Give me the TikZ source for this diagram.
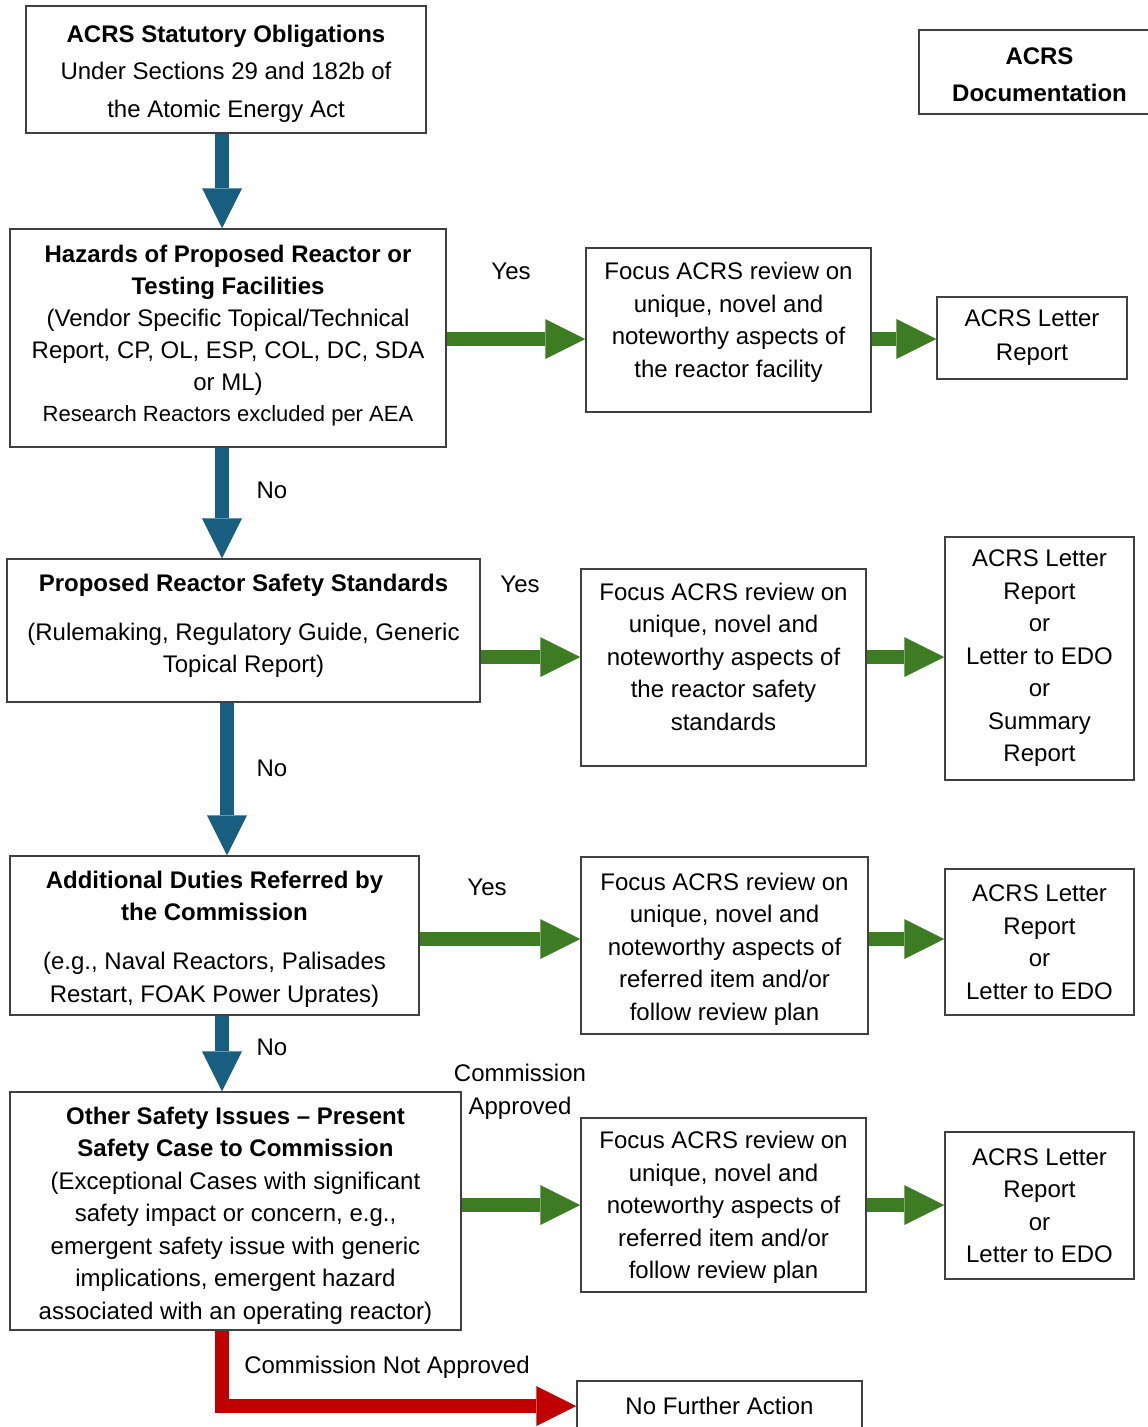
\documentclass[tikz,border=0pt]{standalone}
\usepackage{fontspec}
\setmainfont{Liberation Sans}
\usepackage{xcolor}
\usetikzlibrary{arrows.meta}

\definecolor{noblue}{RGB}{24,94,128}
\definecolor{yesgreen}{RGB}{62,124,36}
\definecolor{stopred}{RGB}{192,0,0}

% move a block of lines up or down inside its box, keeping the box size
\newcommand{\lift}[2]{\raisebox{#1}[\height][\depth]{\begin{tabular}{@{}c@{}}#2\end{tabular}}}

\begin{document}
\begin{tikzpicture}[
    x=1pt,y=-1pt,
    box/.style={draw=black!75,line width=1.5pt,align=center,inner sep=0pt,
      font=\fontsize{24}{32.5}\selectfont},
    lbl/.style={inner sep=0pt,align=center,font=\fontsize{24}{32.5}\selectfont},
    noarrow/.style={draw=noblue,line width=14pt,-{Triangle[width=40pt,length=40pt,line width=0pt]}},
    yesarrow/.style={draw=yesgreen,line width=14pt,-{Triangle[width=40pt,length=40pt,line width=0pt]}},
    stoparrow/.style={draw=stopred,line width=14pt,line join=miter,-{Triangle[width=40pt,length=40pt,line width=0pt]}}
  ]
    \path[use as bounding box,fill=white] (0,0) rectangle (1148,1427);

    % left column
    \node[box,minimum width=400,minimum height=127,font=\fontsize{24}{37.5}\selectfont] (stat) at (226,69.5)
      {\lift{-2.5pt}{\textbf{ACRS Statutory Obligations}\\Under Sections 29 and 182b of\\the Atomic Energy Act}};
    \node[box,minimum width=436,minimum height=218,font=\fontsize{24}{32}\selectfont] (haz) at (228,338)
      {\lift{2pt}{\textbf{Hazards of Proposed Reactor or}\\\textbf{Testing Facilities}\\(Vendor Specific Topical/Technical\\Report, CP, OL, ESP, COL, DC, SDA\\or ML)\\[-1pt]{\fontsize{22}{31}\selectfont Research Reactors excluded per AEA}}};
    \node[box,minimum width=473,minimum height=143] (std) at (243.5,630.5)
      {\lift{5pt}{\textbf{Proposed Reactor Safety Standards}\\[16pt](Rulemaking, Regulatory Guide, Generic\\Topical Report)}};
    \node[box,minimum width=409,minimum height=159] (add) at (214.5,935.5)
      {\lift{-3pt}{\textbf{Additional Duties Referred by}\\\textbf{the Commission}\\[16.5pt](e.g., Naval Reactors, Palisades\\Restart, FOAK Power Uprates)}};
    \node[box,minimum width=451,minimum height=238] (oth) at (235.5,1211)
      {\lift{-4pt}{\textbf{Other Safety Issues -- Present}\\\textbf{Safety Case to Commission}\\(Exceptional Cases with significant\\safety impact or concern, e.g.,\\emergent safety issue with generic\\implications, emergent hazard\\associated with an operating reactor)}};

    % middle column
    \node[box,minimum width=285,minimum height=164] (foc1) at (728.5,330)
      {\lift{8pt}{Focus ACRS review on\\unique, novel and\\noteworthy aspects of\\the reactor facility}};
    \node[box,minimum width=285,minimum height=197] (foc2) at (723.5,667.5)
      {\lift{9pt}{Focus ACRS review on\\unique, novel and\\noteworthy aspects of\\the reactor safety\\standards}};
    \node[box,minimum width=287,minimum height=177] (foc3) at (724.5,945.5)
      {\lift{-3pt}{Focus ACRS review on\\unique, novel and\\noteworthy aspects of\\referred item and/or\\follow review plan}};
    \node[box,minimum width=285,minimum height=174] (foc4) at (723.5,1205)
      {\lift{-2pt}{Focus ACRS review on\\unique, novel and\\noteworthy aspects of\\referred item and/or\\follow review plan}};
    \node[box,minimum width=285,minimum height=50] (nfa) at (719.5,1406) {No Further Action};

    % right column
    \node[box,minimum width=241,minimum height=84,font=\fontsize{24}{37}\selectfont] (doc) at (1039.5,72)
      {\lift{-4pt}{\textbf{ACRS}\\\textbf{Documentation}}};
    \node[box,minimum width=190,minimum height=82,font=\fontsize{24}{34}\selectfont] (let1) at (1032,338)
      {ACRS Letter\\Report};
    \node[box,minimum width=189,minimum height=243] (let2) at (1039.5,658.5)
      {ACRS Letter\\Report\\or\\Letter to EDO\\or\\Summary\\Report};
    \node[box,minimum width=189,minimum height=146] (let3) at (1039.5,942)
      {ACRS Letter\\Report\\or\\Letter to EDO};
    \node[box,minimum width=189,minimum height=147] (let4) at (1039.5,1205.5)
      {ACRS Letter\\Report\\or\\Letter to EDO};

    % columns and rows of the arrows
    \coordinate (colA) at (222,0);
    \coordinate (colB) at (227,0);
    \coordinate (row1) at (0,339);
    \coordinate (row2) at (0,657);
    \coordinate (row3) at (0,939);
    \coordinate (row4) at (0,1205);

    \draw[noarrow] (stat.south -| colA) -- (haz.north -| colA);
    \draw[noarrow] (haz.south -| colA) -- (std.north -| colA);
    \draw[noarrow] (std.south -| colB) -- (add.north -| colB);
    \draw[noarrow] (add.south -| colA) -- (oth.north -| colA);

    \draw[yesarrow] (haz.east |- row1) -- (foc1.west |- row1);
    \draw[yesarrow] (foc1.east |- row1) -- (let1.west |- row1);
    \draw[yesarrow] (std.east |- row2) -- (foc2.west |- row2);
    \draw[yesarrow] (foc2.east |- row2) -- (let2.west |- row2);
    \draw[yesarrow] (add.east |- row3) -- (foc3.west |- row3);
    \draw[yesarrow] (foc3.east |- row3) -- (let3.west |- row3);
    \draw[yesarrow] (oth.east |- row4) -- (foc4.west |- row4);
    \draw[yesarrow] (foc4.east |- row4) -- (let4.west |- row4);

    \draw[stoparrow] (oth.south -| colA) |- (nfa.west);

    % labels
    \node[lbl] (yes1) at (511,271) {Yes};
    \node[lbl] (yes2) at (520,584) {Yes};
    \node[lbl] (yes3) at (487,887) {Yes};
    \node[lbl] (appr) at (520,1092) {Commission\\Approved};
    \node[lbl] (no1) at (272,490) {No};
    \node[lbl] (no2) at (272,768) {No};
    \node[lbl] (no3) at (272,1047) {No};
    \node[lbl] (napp) at (387,1367) {Commission Not Approved};
  \end{tikzpicture}
\end{document}
